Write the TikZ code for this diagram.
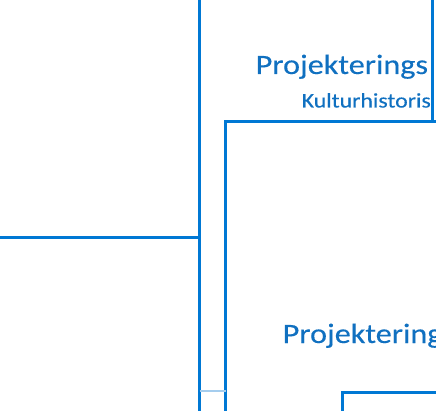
\documentclass[tikz,border=0pt]{standalone}
\usepackage{fontspec}
\setmainfont{Carlito}[FakeStretch=1.15, FakeBold=0.3]
\usetikzlibrary{positioning}
\definecolor{frameblue}{RGB}{0,120,212}
\definecolor{textblue}{RGB}{16,112,192}
\definecolor{paleblue}{RGB}{165,205,238}
\tikzset {
    part box/.style={
        draw=frameblue,
        line width=2.6pt,
        fill=white,
        rectangle, % Set the shape as a rectangle
        inner sep=0pt,
        outer sep=0pt,
    },
    big label/.style={
        text=textblue,
        font=\fontsize{28}{32}\selectfont,
        inner sep=0pt,
        anchor=base west,
    },
    small label/.style={
        text=textblue,
        font=\fontsize{20.7}{24}\selectfont,
        inner sep=0pt,
        anchor=base west,
    },
}

\begin{document}
\begin{tikzpicture}
[x=1pt, y=1pt]
\useasboundingbox (0,0) rectangle (436,-411);

% parts on the left
\node [part box, anchor=south east, minimum width=260pt, minimum height=300pt] (upper) at (199.5,-237.5) {};
\node [part box, anchor=north east, minimum width=260pt, minimum height=300pt] (lower) at (199.5,-237.5) {};

% labels above the big part
\node [big label] (plan) at (255.5,-74) {Projekterings};
\node [small label] (culture) at (301.5,-107.5) {Kulturhistoris};

\node [part box, anchor=south west, minimum width=100pt, minimum height=200pt] (right) at (432.5,-121.5) {};

% big part and the one inside it
\node [part box, anchor=north west, minimum width=300pt, minimum height=400pt] (main) at (225.5,-121.5) {};
\node [big label] (planning) at (282.5,-343) {Projektering};
\node [part box, anchor=north west, minimum width=200pt, minimum height=100pt] (inner) at (342.5,-392.5) {};

\coordinate (tap) at (upper.east |- 0,-391);
\draw [paleblue, line width=1.6pt] (tap) -- (tap -| main.west);

\end{tikzpicture}
\end{document}
